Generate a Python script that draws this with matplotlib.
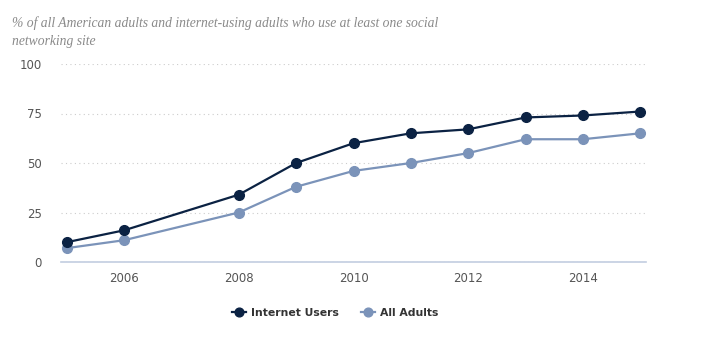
import matplotlib
matplotlib.use('Agg')
import matplotlib.pyplot as plt

years_internet = [2005, 2006, 2008, 2009, 2010, 2011, 2012, 2013, 2014, 2015]
internet_users = [10, 16, 34, 50, 60, 65, 67, 73, 74, 76]
years_all = [2005, 2006, 2008, 2009, 2010, 2011, 2012, 2013, 2014, 2015]
all_adults = [7, 11, 25, 38, 46, 50, 55, 62, 62, 65]
x_ticks = [2006, 2008, 2010, 2012, 2014]
y_ticks = [0, 25, 50, 75, 100]

dark = '#0b2243'
light = '#7b93b9'

fig = plt.figure(figsize=(7.01, 3.45), dpi=100)
ax = fig.add_axes([61 / 701, 1 - 262 / 345, 585 / 701, 198 / 345])

ax.plot(years_internet, internet_users, color=dark, lw=1.6, marker='o', ms=7,
        label='Internet Users', zorder=3)
ax.plot(years_all, all_adults, color=light, lw=1.6, marker='o', ms=7,
        label='All Adults', zorder=2)

ax.set_xlim(2004.9, 2015.1)
ax.set_ylim(0, 100)
ax.set_xticks(x_ticks)
ax.set_yticks(y_ticks)
ax.grid(axis='y', color='#cccccc', linestyle=(0, (1, 3)), lw=0.8)
ax.set_axisbelow(True)
for s in ['top', 'right', 'left']:
    ax.spines[s].set_visible(False)
ax.spines['bottom'].set_color('#c2cde0')
ax.spines['bottom'].set_linewidth(1.2)
ax.tick_params(axis='both', length=0, labelsize=8.5, labelcolor='#555555')
ax.tick_params(axis='y', pad=14)
ax.tick_params(axis='x', pad=7)

fig.text(12 / 701, 1 - 16 / 345,
         '% of all American adults and internet-using adults who use at least one social\nnetworking site',
         family='Liberation Serif', style='italic', fontsize=9.8, color='#8a8a8a',
         va='top', linespacing=1.55)

leg = fig.legend(loc='center', bbox_to_anchor=(335 / 701, 1 - 313 / 345), ncol=2,
                 frameon=False, fontsize=7.8, handlelength=1.3, columnspacing=2.0,
                 handletextpad=0.5, markerscale=0.9)
for t in leg.get_texts():
    t.set_fontweight('bold')
    t.set_color('#333333')

fig.savefig('out.png', dpi=100)
